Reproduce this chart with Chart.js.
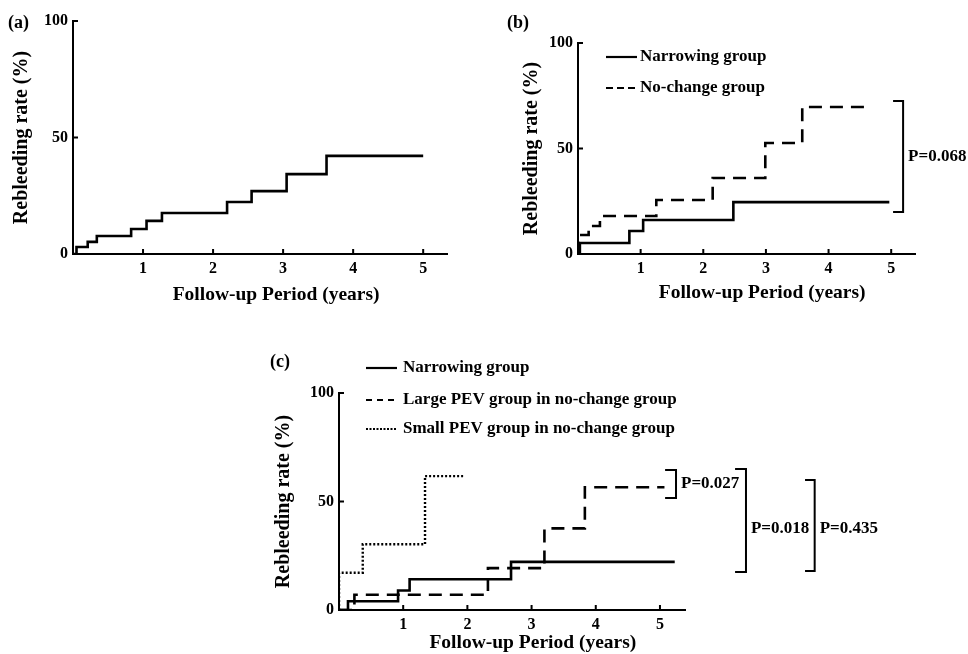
<!DOCTYPE html>
<html><head><meta charset="utf-8">
<script src="https://cdn.jsdelivr.net/npm/chart.js@4.4.0/dist/chart.umd.min.js"></script>
<style>
html,body{margin:0;padding:0;background:#fff;width:968px;height:654px;overflow:hidden;}
canvas{position:absolute;}
</style></head><body>
<canvas id="ca" width="480" height="320" style="left:0px;top:0px"></canvas>
<canvas id="cb" width="488" height="320" style="left:480px;top:0px"></canvas>
<canvas id="cc" width="728" height="334" style="left:240px;top:320px"></canvas>
<script>
// ---- data ----
const xTickValues = [1, 2, 3, 4, 5];
const yTickValues = [0, 50, 100];
const yTitle = 'Rebleeding rate (%)';
const xTitle = 'Follow-up Period (years)';

// panel (a): all patients
const aTimes = [0, 0.05, 0.21, 0.34, 0.83, 1.05, 1.27, 2.20, 2.55, 3.05, 3.62, 5.00];
const aRates = [0, 3.0, 5.2, 7.7, 10.7, 14.2, 17.6, 22.3, 27.0, 34.3, 42.1, 42.1];

// panel (b)
const bLabels = ['Narrowing group', 'No-change group'];
const bNarrowTimes = [0, 0.03, 0.82, 1.04, 2.48, 4.97];
const bNarrowRates = [0, 5.2, 10.9, 16.1, 24.6, 24.6];
const bNoChangeTimes = [0, 0.01, 0.17, 0.35, 1.25, 2.15, 2.99, 3.58, 4.60];
const bNoChangeRates = [0, 9.0, 13.3, 18.0, 25.6, 36.0, 52.6, 69.7, 69.7];
const bPValues = ['P=0.068'];

// panel (c)
const cLabels = ['Narrowing group', 'Large PEV group in no-change group', 'Small PEV group in no-change group'];
const cNarrowTimes = [0, 0.14, 0.92, 1.10, 2.68, 5.23];
const cNarrowRates = [0, 4.0, 9.0, 14.2, 22.2, 22.2];
const cLargeTimes = [0, 0.24, 2.32, 3.20, 3.83, 5.07];
const cLargeRates = [0, 7.0, 19.3, 37.6, 56.6, 56.6];
const cSmallTimes = [0, 0.0, 0.37, 1.34, 1.96];
const cSmallRates = [0, 17.2, 30.3, 61.7, 61.7];
const cPValues = ['P=0.027', 'P=0.018', 'P=0.435'];

// ---- helpers ----
Chart.defaults.font.family = '"Liberation Serif", "Times New Roman", serif';
Chart.defaults.color = '#000';

const pts = (t, r) => t.map((v, i) => ({x: v, y: r[i]}));
const FONT = '"Liberation Serif", "Times New Roman", serif';

const deco = {
  id: 'deco',
  afterDraw(chart, args, o) {
    const ctx = chart.ctx, xs = chart.scales.x, ys = chart.scales.y, ca = chart.chartArea;
    ctx.save();
    ctx.strokeStyle = '#000'; ctx.fillStyle = '#000'; ctx.lineWidth = 2;
    // inward tick marks
    ctx.beginPath();
    xs.ticks.forEach(t => { const p = xs.getPixelForValue(t.value); ctx.moveTo(p, ca.bottom); ctx.lineTo(p, ca.bottom - 5); });
    ys.ticks.forEach(t => { if (t.value === 0) return; const p = ys.getPixelForValue(t.value); ctx.moveTo(ca.left, p); ctx.lineTo(ca.left + 5, p); });
    ctx.stroke();
    // x title
    ctx.font = 'bold 19.5px ' + FONT;
    ctx.textAlign = 'center'; ctx.textBaseline = 'middle';
    ctx.fillText(xTitle, xs.getPixelForValue(o.xTitleAt), ca.bottom + o.xTitleDy);
    // panel label
    ctx.font = 'bold 18px ' + FONT; ctx.textAlign = 'left';
    ctx.fillText(o.label, o.labelX, o.labelY);
    // legend
    if (o.legend) {
      ctx.font = 'bold 17px ' + FONT;
      chart.data.datasets.forEach((ds, i) => {
        const y = ca.top + o.legend.dy[i];
        ctx.save();
        ctx.lineWidth = 2.2; ctx.setLineDash(ds.legendDash || []);
        ctx.beginPath(); ctx.moveTo(ca.left + o.legend.x0, y); ctx.lineTo(ca.left + o.legend.x1, y); ctx.stroke();
        ctx.restore();
        ctx.fillText(ds.label, ca.left + o.legend.tx, y);
      });
    }
    // significance brackets
    ctx.font = 'bold 17px ' + FONT;
    (o.brackets || []).forEach(b => {
      const xa = xs.getPixelForValue(b.x0), xb = xs.getPixelForValue(b.x1);
      const yt = ys.getPixelForValue(b.yTop), yb = ys.getPixelForValue(b.yBottom);
      ctx.beginPath(); ctx.moveTo(xa, yt); ctx.lineTo(xb, yt); ctx.lineTo(xb, yb); ctx.lineTo(xa, yb); ctx.stroke();
      ctx.fillText(b.text, xb + 5, (yt + yb) / 2 + b.dy);
    });
    ctx.restore();
  }
};

function ds(label, t, r, dash, legendDash, width) {
  return { label, data: pts(t, r), stepped: true, borderColor: '#000', borderWidth: width || 2.6,
           borderDash: dash, legendDash, pointRadius: 0, fill: false };
}

function makeChart(id, datasets, pad, yW, xH, xMax, decoOpts) {
  return new Chart(document.getElementById(id), {
    type: 'line',
    data: { datasets },
    options: {
      responsive: false, animation: false, devicePixelRatio: 1,
      layout: { padding: pad },
      plugins: { legend: { display: false }, tooltip: { enabled: false }, deco: decoOpts },
      scales: {
        x: {
          type: 'linear', min: 0, max: xMax,
          afterFit: s => { s.height = xH; },
          afterBuildTicks: s => { s.ticks = xTickValues.map(v => ({ value: v })); },
          grid: { display: false, drawTicks: false },
          border: { display: true, color: '#000', width: 2 },
          ticks: { color: '#000', font: { size: 16, weight: 'bold' }, padding: 5, maxRotation: 0, autoSkip: false }
        },
        y: {
          type: 'linear', min: 0, max: 100,
          afterFit: s => { s.width = yW; },
          afterBuildTicks: s => { s.ticks = yTickValues.map(v => ({ value: v })); },
          grid: { display: false, drawTicks: false },
          border: { display: true, color: '#000', width: 2 },
          ticks: { color: '#000', font: { size: 16, weight: 'bold' }, padding: 5 },
          title: { display: true, text: yTitle, color: '#000', font: { size: 20, weight: 'bold' }, padding: { top: 10, bottom: 0 } }
        }
      }
    },
    plugins: [deco]
  });
}

// (a)
makeChart('ca', [ds('All patients', aTimes, aRates, [], [])],
  { left: 0, top: 21, right: 33, bottom: 0 }, 73, 66, 5.34,
  { label: '(a)', labelX: 8, labelY: 23, xTitleAt: 2.9, xTitleDy: 41 });

// (b)
makeChart('cb', [
    ds(bLabels[0], bNarrowTimes, bNarrowRates, [], []),
    ds(bLabels[1], bNoChangeTimes, bNoChangeRates, [13, 8], [7, 4])
  ],
  { left: 30, top: 43, right: 53, bottom: 0 }, 68, 66, 5.38,
  { label: '(b)', labelX: 27, labelY: 23, xTitleAt: 2.94, xTitleDy: 39,
    legend: { dy: [14, 45], x0: 28, x1: 59, tx: 62 },
    brackets: [ { text: bPValues[0], x0: 5.03, x1: 5.19, yTop: 72.5, yBottom: 19.9, dy: 0 } ] });

// (c)
makeChart('cc', [
    ds(cLabels[0], cNarrowTimes, cNarrowRates, [], []),
    ds(cLabels[1], cLargeTimes, cLargeRates, [13, 8], [6, 5]),
    ds(cLabels[2], cSmallTimes, cSmallRates, [2, 2], [2, 1.5], 2.4)
  ],
  { left: 22, top: 73, right: 283, bottom: 0 }, 77, 44, 5.39,
  { label: '(c)', labelX: 30, labelY: 42, xTitleAt: 3.02, xTitleDy: 33,
    legend: { dy: [-25, 7, 36], x0: 27, x1: 58, tx: 64 },
    brackets: [
      { text: cPValues[0], x0: 5.08, x1: 5.25, yTop: 64.5, yBottom: 51.6, dy: 0 },
      { text: cPValues[1], x0: 6.17, x1: 6.34, yTop: 65.0, yBottom: 17.5, dy: 8 },
      { text: cPValues[2], x0: 7.26, x1: 7.41, yTop: 59.9, yBottom: 18.0, dy: 3 }
    ] });
</script>
</body></html>
